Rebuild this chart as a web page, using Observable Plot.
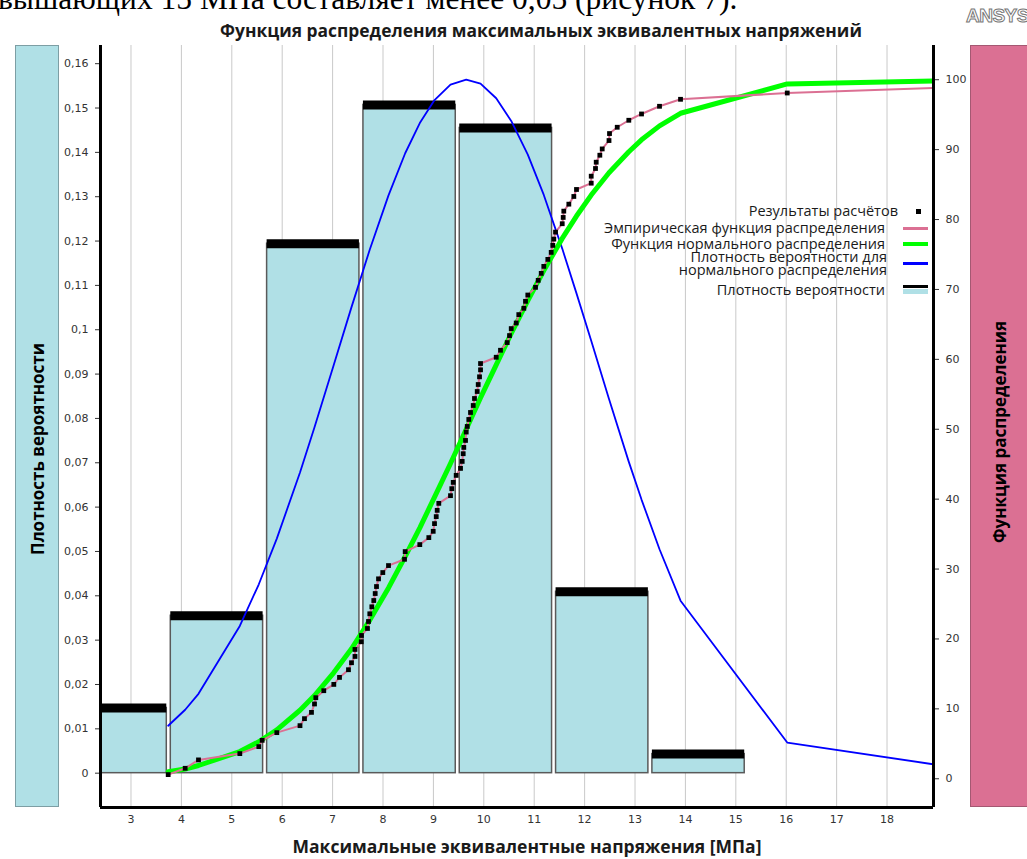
<!DOCTYPE html>
<html>
<head>
<meta charset="utf-8">
<script src="https://cdn.jsdelivr.net/npm/d3@7"></script>
<script src="https://cdn.jsdelivr.net/npm/@observablehq/plot@0.6"></script>
<style>
  body { margin: 0; background: #fff; }
  #wrap { position: relative; width: 1027px; height: 859px; overflow: hidden; font-family: "Open Sans", sans-serif; color: #1a1a1a; }
  #chart { position: absolute; left: 0; top: 0; }
  .abs { position: absolute; white-space: nowrap; }
  #toptext { left: -2px; top: -17px; font-family: "Liberation Serif", serif; font-size: 31.5px; line-height: 31.5px; color: #000; }
  #ansys { left: 966px; top: 5px; font-family: "Liberation Sans", Arial, sans-serif; font-weight: bold; font-size: 19px; color: #fff; -webkit-text-stroke: 1px #777; letter-spacing: -0.5px; }
  #title { left: 541px; top: 30px; transform: translate(-50%, -50%); font-weight: bold; font-size: 17.4px; }
  #xtitle { left: 527px; top: 846px; transform: translate(-50%, -50%); font-weight: bold; font-size: 17.5px; }
  .panel { position: absolute; top: 45px; height: 762px; box-sizing: border-box; }
  #leftpanel { left: 15px; width: 44px; background: #B0E0E6; border: 1px solid #7d9ea4; }
  #rightpanel { left: 970px; width: 70px; background: #DB7093; border: 1px solid #a45872; }
  .panel span { position: absolute; left: 50%; transform: translate(-50%, -50%) rotate(-90deg); white-space: nowrap; font-weight: bold; font-size: 17px; color: #000; }
  .lg { position: absolute; white-space: nowrap; font-size: 14.5px; line-height: 12px; color: #1a1a1a; text-align: right; }
  .mk { position: absolute; }
</style>
</head>
<body>
<div id="wrap">
  <div id="chart"></div>
  <div id="toptext" class="abs">вышающих 15 МПа составляет менее 0,05 (рисунок 7).</div>
  <div id="ansys" class="abs">ANSYS</div>
  <div id="title" class="abs">Функция распределения максимальных эквивалентных напряжений</div>
  <div id="xtitle" class="abs">Максимальные эквивалентные напряжения [МПа]</div>
  <div id="leftpanel" class="panel"><span style="top:403px">Плотность вероятности</span></div>
  <div id="rightpanel" class="panel"><span style="top:386px; left:28px">Функция распределения</span></div>

  <div class="lg" style="right:129px; top:205px;">Результаты расчётов</div>
  <div class="mk" style="left:916px; top:209px; width:5px; height:5px; background:#000;"></div>

  <div class="lg" style="right:142px; top:222px;">Эмпирическая функция распределения</div>
  <div class="mk" style="left:903px; top:227px; width:25px; height:3px; background:#DB7093;"></div>

  <div class="lg" style="right:142px; top:237.5px;">Функция нормального распределения</div>
  <div class="mk" style="left:903px; top:242px; width:25px; height:4px; background:#00ff00;"></div>

  <div class="lg" style="right:140px; top:251px;">Плотность вероятности для</div>
  <div class="lg" style="right:140px; top:263.5px;">нормального распределения</div>
  <div class="mk" style="left:903px; top:262px; width:25px; height:3px; background:#0000ff;"></div>

  <div class="lg" style="right:142px; top:284px;">Плотность вероятности</div>
  <div class="mk" style="left:903px; top:285px; width:25px; height:3px; background:#000;"></div>
  <div class="mk" style="left:903px; top:289px; width:25px; height:5px; background:#B0E0E6;"></div>
</div>
<script>
// ---- Data ----
const xTicks = [3, 4, 5, 6, 7, 8, 9, 10, 11, 12, 13, 14, 15, 16, 17, 18];
const leftTicks = [0, 0.01, 0.02, 0.03, 0.04, 0.05, 0.06, 0.07, 0.08, 0.09, 0.1, 0.11, 0.12, 0.13, 0.14, 0.15, 0.16];
const rightTicks = [0, 10, 20, 30, 40, 50, 60, 70, 80, 90, 100];

// Histogram (probability density)
const binStart = [1.839, 3.750, 5.661, 7.572, 9.483, 11.394, 13.305, 15.216, 17.127];
const binEnd   = [3.750, 5.661, 7.572, 9.483, 11.394, 13.305, 15.216, 17.127, 19.038];
const density  = [0.0147, 0.0355, 0.1194, 0.1507, 0.1455, 0.0409, 0.0043, 0, 0];

// Calculation results (empirical distribution function, %)
const pointX = [3.738, 4.075, 4.339, 5.159, 5.536, 5.603, 5.893, 6.353, 6.442, 6.581,
  6.641, 6.667, 6.825, 7.024, 7.137, 7.315, 7.375, 7.444, 7.444, 7.569,
  7.573, 7.692, 7.712, 7.738, 7.778, 7.817, 7.845, 7.871, 7.911, 7.996,
  8.109, 8.427, 8.440, 8.730, 8.909, 8.996, 9.022, 9.056, 9.075, 9.107,
  9.339, 9.365, 9.393, 9.452, 9.538, 9.571, 9.591, 9.603, 9.637, 9.651,
  9.671, 9.702, 9.736, 9.790, 9.815, 9.869, 9.889, 9.915, 9.935, 9.935,
  10.246, 10.331, 10.464, 10.510, 10.544, 10.643, 10.694, 10.794, 10.827, 10.873,
  11.026, 11.079, 11.139, 11.190, 11.270, 11.337, 11.369, 11.389, 11.423, 11.556,
  11.575, 11.587, 11.687, 11.786, 11.839, 12.131, 12.131, 12.216, 12.230, 12.302,
  12.349, 12.484, 12.494, 12.647, 12.877, 13.129, 13.486, 13.903, 16.020, 20.1];
const pointP = [0.6, 1.5, 2.7, 3.6, 4.6, 5.5, 6.6, 7.6, 8.6, 9.5,
  10.7, 11.6, 12.6, 13.5, 14.5, 15.6, 16.6, 17.5, 18.5, 19.6,
  20.5, 21.5, 22.5, 23.6, 24.6, 25.5, 26.5, 27.5, 28.6, 29.5,
  30.5, 31.4, 32.5, 33.5, 34.5, 35.4, 36.5, 37.5, 38.4, 39.4,
  40.5, 41.5, 42.4, 43.4, 44.4, 45.4, 46.5, 47.4, 48.4, 49.6,
  50.4, 51.4, 52.4, 53.4, 54.4, 55.4, 56.4, 57.5, 58.5, 59.4,
  60.3, 61.3, 62.4, 63.4, 64.4, 65.2, 66.4, 67.3, 68.3, 69.2,
  70.3, 71.3, 72.3, 73.3, 74.3, 75.3, 76.3, 77.2, 78.2, 79.4,
  80.3, 81.2, 82.2, 83.3, 84.3, 85.2, 86.2, 87.3, 88.2, 89.2,
  90.1, 91.3, 92.3, 93.2, 94.2, 95.1, 96.2, 97.2, 98.1, 99.1];

// Normal distribution curves
const curveX = [3.738, 4.075, 4.339, 5.159, 5.536, 5.893, 6.353, 6.641, 7.024, 7.375,
  7.738, 8.109, 8.440, 8.730, 9.022, 9.339, 9.651, 9.935, 10.246, 10.544,
  10.873, 11.190, 11.556, 11.839, 12.131, 12.484, 12.877, 13.129, 13.486, 13.903, 16.020, 20.1];
const normalPdf = [0.0107, 0.0143, 0.0179, 0.0332, 0.0426, 0.0529, 0.0678, 0.0780, 0.0921, 0.1051,
  0.1181, 0.1303, 0.1398, 0.1466, 0.1518, 0.1553, 0.1564, 0.1555, 0.1522, 0.1471,
  0.1395, 0.1304, 0.1183, 0.1082, 0.0975, 0.0844, 0.0702, 0.0617, 0.0505, 0.0389, 0.0069, 0.0000];
const normalCdf = [1.0, 1.4, 1.9, 3.9, 5.3, 7.0, 9.8, 11.9, 15.2, 18.6,
  22.7, 27.3, 31.8, 35.9, 40.3, 45.1, 50.0, 54.5, 59.2, 63.7,
  68.4, 72.7, 77.3, 80.5, 83.5, 86.7, 89.7, 91.4, 93.4, 95.2, 99.4, 100.0];

// ---- Tables ----
const bars = binStart.map((s, i) => ({x1: s, x2: binEnd[i], d: density[i]}));
const points = pointX.map((x, i) => ({x, p: pointP[i]}));
const curve = curveX.map((x, i) => ({x, pdf: normalPdf[i], cdf: normalCdf[i]}));

// secondary (right, %) axis mapped onto the primary density scale
const pctToY = p => (p * 6.99 - 5.6) / 4434;
const yToPct = v => v * 4434 / 6.99 + 5.6 / 6.99;

const fmtComma = v => String(+v.toFixed(2)).replace(".", ",");

const chart = Plot.plot({
  width: 1027,
  height: 859,
  marginLeft: 100,
  marginRight: 94,
  marginTop: 45,
  marginBottom: 52,
  x: {domain: [2.395, 18.922], axis: null},
  y: {domain: [-0.00774, 0.1641], axis: null},
  style: {background: "transparent", fontFamily: "DejaVu Sans", fontSize: "11px", color: "#333", overflow: "visible"},
  marks: [
    Plot.ruleX(xTicks, {stroke: "#c9c9c9", strokeWidth: 1}),
    Plot.rect(bars, {x1: "x1", x2: "x2", y1: 0, y2: "d", fill: "#B0E0E6", stroke: "#5a5a5a", strokeWidth: 1.5, insetLeft: 2, insetRight: 2, clip: true}),
    Plot.ruleY(bars.filter(b => b.d > 0), {y: "d", x1: "x1", x2: "x2", stroke: "#000", strokeWidth: 9, insetLeft: 2, insetRight: 2, clip: true}),
    Plot.line(curve, {x: "x", y: "pdf", stroke: "#0000ff", strokeWidth: 1.8, clip: true}),
    Plot.line(curve, {x: "x", y: d => pctToY(d.cdf), stroke: "#00ff00", strokeWidth: 5, clip: true}),
    Plot.line(points, {x: "x", y: d => pctToY(d.p), stroke: "#DB7093", strokeWidth: 2, clip: true}),
    Plot.dot(points, {x: "x", y: d => pctToY(d.p), symbol: "square", r: 2.7, fill: "#000", clip: true}),
    Plot.axisX(xTicks, {anchor: "bottom", tickSize: 0, tickPadding: 8, label: null}),
    Plot.axisY(leftTicks, {anchor: "left", tickSize: 5, tickPadding: 7, tickFormat: fmtComma, label: null}),
    Plot.axisY(rightTicks.map(pctToY), {anchor: "right", tickSize: 5, tickPadding: 7, tickFormat: v => Math.round(yToPct(v)), label: null}),
    Plot.ruleX([2.395], {stroke: "#000", strokeWidth: 3}),
    Plot.ruleX([18.922], {stroke: "#000", strokeWidth: 3}),
    Plot.ruleY([-0.00774], {stroke: "#000", strokeWidth: 3})
  ]
});
document.getElementById("chart").appendChild(chart);
</script>
</body>
</html>
